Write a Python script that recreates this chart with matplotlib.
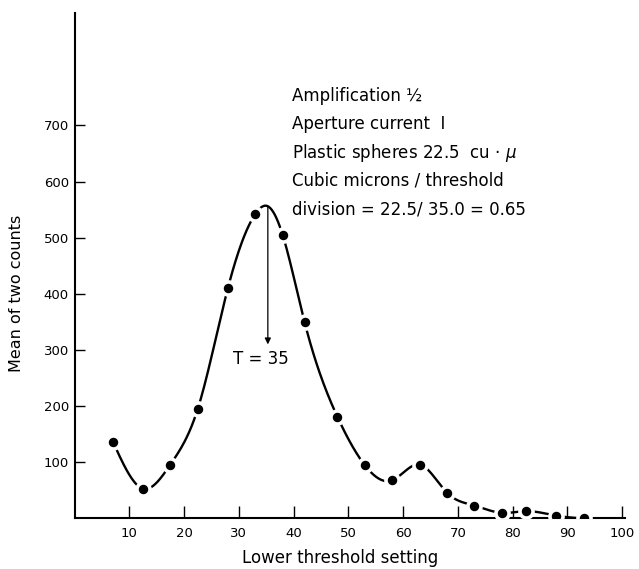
import numpy as np
import matplotlib
matplotlib.use("Agg")
import matplotlib.pyplot as plt

# lower threshold setting vs mean of two counts (plastic spheres)
threshold = [7, 12.5, 17.5, 22.5, 28, 33, 38, 42, 48, 53, 58, 63, 68, 73, 78, 82.5, 88, 93]
mean_counts = [137, 53, 96, 195, 410, 542, 505, 350, 181, 95, 68, 96, 46, 23, 10, 13, 5, 0]

peak_x = 35.3
peak_y = 556
arrow_tip = 310
t_text = "T = 35"

xticks = [10, 20, 30, 40, 50, 60, 70, 80, 90, 100]
yticks = [100, 200, 300, 400, 500, 600, 700]

notes = [
    "Amplification ½",
    "Aperture current  I",
    "Plastic spheres 22.5  cu · $\\mu$",
    "Cubic microns / threshold",
    "division = 22.5/ 35.0 = 0.65",
]


def natural_spline(xk, yk, xs):
    xk = np.asarray(xk, float)
    yk = np.asarray(yk, float)
    n = len(xk)
    h = np.diff(xk)
    A = np.zeros((n, n))
    b = np.zeros(n)
    A[0, 0] = A[-1, -1] = 1
    for i in range(1, n - 1):
        A[i, i - 1] = h[i - 1]
        A[i, i] = 2 * (h[i - 1] + h[i])
        A[i, i + 1] = h[i]
        b[i] = 3 * ((yk[i + 1] - yk[i]) / h[i] - (yk[i] - yk[i - 1]) / h[i - 1])
    c = np.linalg.solve(A, b)
    idx = np.clip(np.searchsorted(xk, xs) - 1, 0, n - 2)
    dx = xs - xk[idx]
    hi = h[idx]
    bb = (yk[idx + 1] - yk[idx]) / hi - hi * (2 * c[idx] + c[idx + 1]) / 3
    d = (c[idx + 1] - c[idx]) / (3 * hi)
    return yk[idx] + bb * dx + c[idx] * dx ** 2 + d * dx ** 3


# knots for the smooth curve: the points plus the peak
knots = sorted(zip(threshold + [peak_x], mean_counts + [peak_y]))
kx = [k[0] for k in knots]
ky = [k[1] for k in knots]
xs = np.linspace(kx[0], kx[-1], 600)
ys = np.clip(natural_spline(kx, ky, xs), 0, None)

fig = plt.figure(figsize=(6.39, 5.69), dpi=100)
ax = fig.add_axes([0.1166, 0.0888, 0.978 - 0.1166, 0.977 - 0.0888])

ax.plot(xs, ys, color="black", lw=1.7, zorder=2)
# white halo around each dot breaks the line like the original
ax.plot(threshold, mean_counts, "o", ms=11, color="white", zorder=3)
ax.plot(threshold, mean_counts, "o", ms=5.8, color="black", zorder=4)

ax.annotate("", xy=(peak_x, arrow_tip), xytext=(peak_x, peak_y),
            arrowprops=dict(arrowstyle="-|>", lw=0.9, color="black",
                            mutation_scale=9, shrinkA=0, shrinkB=0))
ax.text(34, 284, t_text, ha="center", va="center", fontsize=12)

for i, line in enumerate(notes):
    ax.text(39.7, 752 - i * 50.3, line, ha="left", va="center", fontsize=12)

ax.set_xlim(0, 100.5)
ax.set_ylim(0, 900)
ax.set_xticks(xticks)
ax.set_yticks(yticks)
ax.tick_params(axis="x", direction="in", length=9, width=1, labelsize=9.5, pad=6)
ax.tick_params(axis="y", direction="in", length=7, width=1, labelsize=9.5, pad=4)

for side in ["top", "right"]:
    ax.spines[side].set_visible(False)
for side in ["left", "bottom"]:
    ax.spines[side].set_linewidth(1.5)

ax.set_xlabel("Lower threshold setting", fontsize=12)
ax.xaxis.set_label_coords(0.482, -0.078)
ax.xaxis.label.set_va("center")
ax.set_ylabel("Mean of two counts", fontsize=11.5)
ax.yaxis.set_label_coords(-0.1045, 0.446)
ax.yaxis.label.set_va("center")

fig.savefig("out.png", dpi=100)
